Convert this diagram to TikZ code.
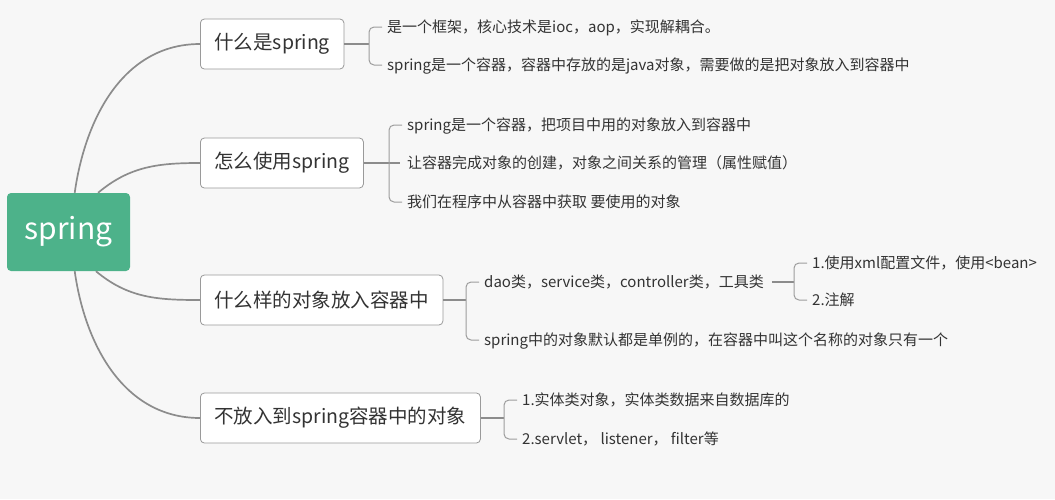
\documentclass[tikz,border=0pt]{standalone}
\usepackage{fontspec}
\setmainfont{Noto Sans CJK SC}
\usetikzlibrary{calc}
\definecolor{bgc}{HTML}{F7F7F7}
\definecolor{rootc}{HTML}{4DB28A}
\definecolor{linec}{HTML}{8C8C8C}
\definecolor{boxc}{HTML}{9A9A9A}
\definecolor{txtc}{HTML}{333333}
\tikzset{
  root/.style={fill=rootc, text=white, rounded corners=4pt, minimum width=123pt, minimum height=78pt, font=\fontsize{30}{35}\selectfont},
  topic/.style={draw=boxc, fill=white, rounded corners=4pt, line width=0.8pt, anchor=west, minimum height=50pt, inner xsep=14pt, text=txtc, font=\fontsize{19.5}{23}\selectfont},
  leaf/.style={anchor=west, inner sep=0pt, text height=12pt, text depth=1pt, text=txtc, font=\fontsize{15}{18}\selectfont},
  branch/.style={draw=linec, line width=1.7pt},
  brace/.style={draw=linec!85, line width=1pt, rounded corners=5pt}
}

\begin{document}
\begin{tikzpicture}[x=1pt,y=1pt]
\fill[bgc] (0,0) rectangle (1055,-499);

\node[root] (spring) at (68.5,-232) {spring};
\node[topic] (what) at (200,-44)  {什么是spring};
\node[topic] (how)  at (200,-163) {怎么使用spring};
\node[topic] (put)  at (200,-300) {什么样的对象放入容器中};
\node[topic] (not)  at (200,-418) {不放入到spring容器中的对象};

\node[leaf] (what1) at (387,-27) {是一个框架，核心技术是ioc，aop，实现解耦合。};
\node[leaf] (what2) at (387,-65) {spring是一个容器，容器中存放的是java对象，需要做的是把对象放入到容器中};
\node[leaf] (how1) at (407,-125) {spring是一个容器，把项目中用的对象放入到容器中};
\node[leaf] (how2) at (407,-163) {让容器完成对象的创建，对象之间关系的管理（属性赋值）};
\node[leaf] (how3) at (407,-202) {我们在程序中从容器中获取 要使用的对象};
\node[leaf] (put1) at (484,-282) {dao类，service类，controller类，工具类};
\node[leaf] (put2) at (484,-340) {spring中的对象默认都是单例的，在容器中叫这个名称的对象只有一个};
\node[leaf] (xml)  at (812,-263) {1.使用xml配置文件，使用<bean>};
\node[leaf] (anno) at (812,-300) {2.注解};
\node[leaf] (not1) at (522,-400) {1.实体类对象，实体类数据来自数据库的};
\node[leaf] (not2) at (522,-439) {2.servlet， listener， filter等};

\draw[branch] (spring.81) to[out=82,in=180] (what.west);
\draw[branch] (spring.53) to[out=40,in=180] (how.west);
\draw[branch] (spring.-55) to[out=-40,in=180] (put.west);
\draw[branch] (spring.-81) to[out=-82,in=180] (not.west);

\draw[branch] (what.east) -- ($(what1.west |- what.east)+(-18,0)$);
\draw[branch] (how.east) -- ($(how2.west)+(-7,0)$);
\draw[branch] (put.east) -- ($(put1.west |- put.east)+(-18,0)$);
\draw[branch] ($(put1.east)+(8,0)$) -- ($(xml.west |- put1.east)+(-18,0)$);
\draw[branch] (not.east) -- ($(not1.west |- not.east)+(-18,0)$);

\foreach \a/\b in {what1/what2, how1/how3, put1/put2, xml/anno, not1/not2}
{
  \draw[brace] ($(\a.west)+(-5,0)$) -| ($(\b.west)+(-18,0)$) -- ($(\b.west)+(-5,0)$);
}
\end{tikzpicture}
\end{document}
